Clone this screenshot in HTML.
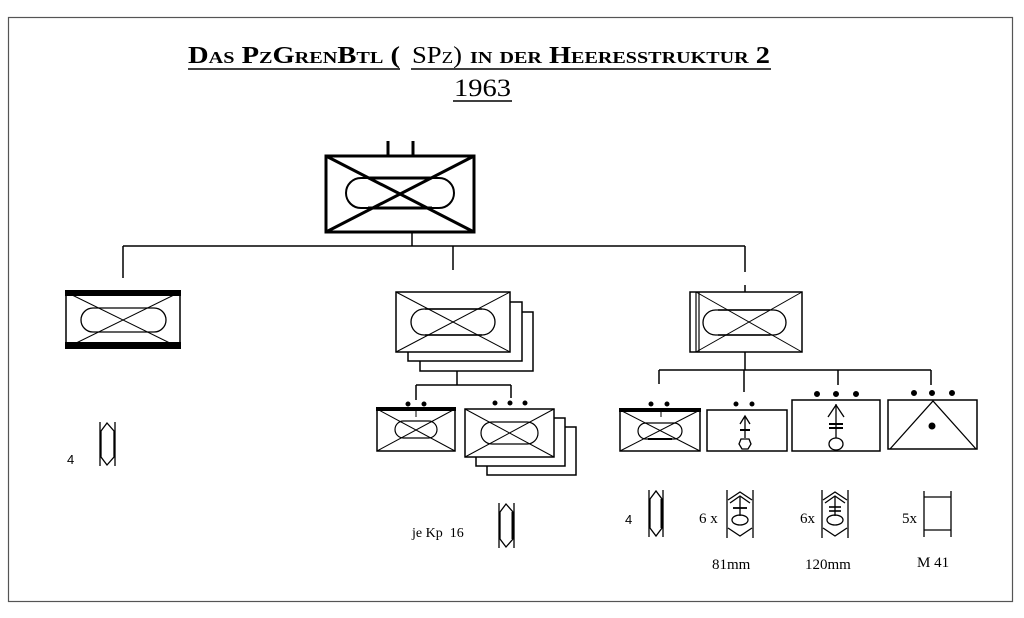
<!DOCTYPE html>
<html><head><meta charset="utf-8"><style>
html,body{margin:0;padding:0;background:#fff;width:1024px;height:618px;overflow:hidden}
svg{display:block}
.t{font-family:"Liberation Serif",serif}
</style></head><body>
<svg width="1024" height="618" viewBox="0 0 1024 618" xmlns="http://www.w3.org/2000/svg" fill="none" stroke="#000">
<rect x="8.5" y="17.5" width="1004" height="584" stroke="#555" stroke-width="1.2"/>
<!-- title -->
<text class="t" x="188" y="63" fill="#000" stroke="none" font-size="24" font-weight="bold" style="font-variant:small-caps" textLength="212" lengthAdjust="spacingAndGlyphs">Das PzGrenBtl (</text>
<text class="t" x="412" y="63" fill="#000" stroke="none" font-size="24" style="font-variant:small-caps" textLength="50" lengthAdjust="spacingAndGlyphs">SPz)</text>
<text class="t" x="470" y="63" fill="#000" stroke="none" font-size="24" font-weight="bold" style="font-variant:small-caps" textLength="300" lengthAdjust="spacingAndGlyphs">in der Heeresstruktur 2</text>
<line x1="188" y1="69" x2="400" y2="69" stroke-width="1.5"/>
<line x1="411" y1="69" x2="771" y2="69" stroke-width="1.5"/>
<text class="t" x="454" y="96" fill="#000" stroke="none" font-size="25" textLength="57" lengthAdjust="spacingAndGlyphs">1963</text>
<line x1="453" y1="101" x2="512" y2="101" stroke-width="1.5"/>

<!-- top box -->
<g stroke-width="3">
<line x1="388" y1="141" x2="388" y2="155"/><line x1="413" y1="141" x2="413" y2="155"/>
<rect x="326" y="156" width="148" height="76"/>
<line x1="326" y1="156" x2="474" y2="232"/><line x1="474" y1="156" x2="326" y2="232"/>
</g>
<rect x="346" y="178" width="108" height="30" rx="15" stroke-width="2"/>
<line x1="368" y1="178" x2="432" y2="178" stroke-width="3"/><line x1="368" y1="208" x2="432" y2="208" stroke-width="3"/>

<!-- connectors level 1 -->
<g stroke-width="1.5">
<line x1="412" y1="232" x2="412" y2="246"/>
<line x1="123" y1="246" x2="745" y2="246"/>
<line x1="123" y1="246" x2="123" y2="278"/>
<line x1="453" y1="246" x2="453" y2="270"/>
<line x1="745" y1="246" x2="745" y2="272"/>
<line x1="745" y1="285" x2="745" y2="292"/>
</g>

<!-- left box -->
<rect x="66" y="292" width="114" height="56" stroke-width="1.5"/>
<rect x="65" y="290" width="116" height="6" fill="#000" stroke="none"/>
<rect x="65" y="342" width="116" height="7" fill="#000" stroke="none"/>
<line x1="66" y1="292" x2="180" y2="348"/><line x1="180" y1="292" x2="66" y2="348"/>
<rect x="81" y="308" width="85" height="24" rx="12" stroke-width="1.3"/>
<line x1="97" y1="308" x2="150" y2="308"/><line x1="97" y1="332" x2="150" y2="332"/>

<!-- middle stack -->
<g stroke-width="1.5" fill="#fff">
<rect x="420" y="312" width="113" height="59"/>
<rect x="408" y="302" width="114" height="59"/>
<rect x="396" y="292" width="114" height="60"/>
</g>
<line x1="396" y1="292" x2="510" y2="352"/><line x1="510" y1="292" x2="396" y2="352"/>
<rect x="411" y="309" width="84" height="26" rx="13" stroke-width="1.3"/>
<line x1="425" y1="309" x2="482" y2="309" stroke-width="1.5"/><line x1="425" y1="335" x2="482" y2="335" stroke-width="1.5"/>

<g stroke-width="1.5">
<line x1="457" y1="371" x2="457" y2="385"/>
<line x1="416" y1="385" x2="511" y2="385"/>
<line x1="416" y1="385" x2="416" y2="400"/>
<line x1="511" y1="385" x2="511" y2="398"/>
</g>
<!-- small box left -->
<rect x="377" y="409" width="78" height="42" stroke-width="1.5"/>
<rect x="376" y="407" width="80" height="4" fill="#000" stroke="none"/>
<line x1="377" y1="409" x2="455" y2="451"/><line x1="455" y1="409" x2="377" y2="451"/>
<rect x="395" y="421" width="42" height="17" rx="8.5" stroke-width="1.2"/>
<line x1="416" y1="411" x2="416" y2="417"/>
<circle cx="408" cy="404" r="2" fill="#000"/><circle cx="424" cy="404" r="2" fill="#000"/>
<!-- small stack right -->
<g stroke-width="1.5" fill="#fff">
<rect x="487" y="427" width="89" height="48"/>
<rect x="476" y="418" width="89" height="48"/>
<rect x="465" y="409" width="89" height="48"/>
</g>
<line x1="465" y1="409" x2="554" y2="457"/><line x1="554" y1="409" x2="465" y2="457"/>
<rect x="481" y="422" width="57" height="22" rx="11" stroke-width="1.2"/>
<circle cx="495" cy="403" r="2" fill="#000"/><circle cx="510" cy="403" r="2" fill="#000"/><circle cx="525" cy="403" r="2" fill="#000"/>

<text class="t" x="412" y="537" fill="#000" stroke="none" font-size="14">je Kp&#160; 16</text>
<g stroke-width="1.3">
<line x1="499" y1="503" x2="499" y2="548"/><line x1="514" y1="503" x2="514" y2="548"/>
<path d="M500 512 L506 504 L513 512 L513 539 L506 547 L500 539 Z"/>
<line x1="513" y1="512" x2="513" y2="539" stroke-width="3"/>
</g>

<!-- right box -->
<rect x="690" y="292" width="112" height="60" stroke-width="1.5"/>
<line x1="696" y1="292" x2="696" y2="352" stroke-width="1.2"/>
<line x1="699" y1="292" x2="699" y2="352" stroke-width="1.2"/>
<line x1="696" y1="292" x2="802" y2="352"/><line x1="802" y1="292" x2="696" y2="352"/>
<rect x="703" y="310" width="83" height="25" rx="12.5" stroke-width="1.3"/>
<line x1="718" y1="310" x2="770" y2="310" stroke-width="1.5"/><line x1="718" y1="335" x2="770" y2="335" stroke-width="1.5"/>

<g stroke-width="1.5">
<line x1="745" y1="352" x2="745" y2="370"/>
<line x1="659" y1="370" x2="931" y2="370"/>
<line x1="659" y1="370" x2="659" y2="384"/>
<line x1="744" y1="370" x2="744" y2="392"/>
<line x1="838" y1="370" x2="838" y2="385"/>
<line x1="931" y1="370" x2="931" y2="385"/>
</g>

<!-- box A -->
<rect x="620" y="410" width="80" height="41" stroke-width="1.5"/>
<rect x="619" y="408" width="82" height="4" fill="#000" stroke="none"/>
<line x1="620" y1="410" x2="700" y2="451"/><line x1="700" y1="410" x2="620" y2="451"/>
<rect x="638" y="423" width="44" height="16" rx="8" stroke-width="1.2"/>
<line x1="648" y1="439" x2="672" y2="439" stroke-width="2"/>
<line x1="661" y1="412" x2="661" y2="417"/>
<circle cx="651" cy="404" r="2" fill="#000"/><circle cx="667" cy="404" r="2" fill="#000"/>
<!-- box B -->
<rect x="707" y="410" width="80" height="41" stroke-width="1.5"/>
<circle cx="736" cy="404" r="2" fill="#000"/><circle cx="752" cy="404" r="2" fill="#000"/>
<g stroke-width="1.3">
<line x1="745" y1="416" x2="745" y2="438"/>
<path d="M740 424 L745 416 L750 424"/>
<line x1="740" y1="430" x2="750" y2="430" stroke-width="2"/>
<path d="M741 439 L749 439 L751 444 L748 449 L742 449 L739 444 Z"/>
</g>
<!-- box C -->
<rect x="792" y="400" width="88" height="51" stroke-width="1.5"/>
<circle cx="817" cy="394" r="2.5" fill="#000"/><circle cx="836" cy="394" r="2.5" fill="#000"/><circle cx="856" cy="394" r="2.5" fill="#000"/>
<g stroke-width="1.3">
<line x1="836" y1="404" x2="836" y2="438"/>
<path d="M828 417 L836 405 L844 417"/>
<line x1="829" y1="424" x2="843" y2="424" stroke-width="2"/>
<line x1="829" y1="428" x2="843" y2="428" stroke-width="2"/>
<ellipse cx="836" cy="444" rx="7" ry="6"/>
</g>
<!-- box D -->
<rect x="888" y="400" width="89" height="49" stroke-width="1.5"/>
<path d="M890 449 L933 401 L976 449" stroke-width="1.3"/>
<circle cx="932" cy="426" r="3" fill="#000"/>
<circle cx="914" cy="393" r="2.5" fill="#000"/><circle cx="932" cy="393" r="2.5" fill="#000"/><circle cx="952" cy="393" r="2.5" fill="#000"/>

<!-- bottom row -->
<g font-family="Liberation Sans, sans-serif" font-size="13" fill="#000" stroke="none">
<text x="67" y="464">4</text>
<text x="625" y="524">4</text>
</g>
<g class="t" font-size="15" fill="#000" stroke="none">
<text x="699" y="523">6 x</text>
<text x="800" y="523">6x</text>
<text x="902" y="523">5x</text>
<text x="712" y="569">81mm</text>
<text x="805" y="569">120mm</text>
<text x="917" y="567">M 41</text>
</g>
<g stroke-width="1.3">
<!-- left vehicle -->
<line x1="100" y1="422" x2="100" y2="466"/><line x1="115" y1="422" x2="115" y2="466"/>
<path d="M101 431 L107 423 L114 431 L114 457 L107 465 L101 457 Z"/>
<!-- 4 vehicle -->
<line x1="649" y1="490" x2="649" y2="537"/><line x1="663" y1="490" x2="663" y2="537"/>
<path d="M650 499 L656 491 L662 499 L662 528 L656 536 L650 528 Z"/>
<line x1="662" y1="499" x2="662" y2="528" stroke-width="3"/>
<!-- 81 -->
<line x1="727" y1="490" x2="727" y2="538"/><line x1="753" y1="490" x2="753" y2="538"/>
<path d="M728 500 L740 492 L752 500 M730 503 L740 496 L750 503 M728 528 L740 536 L752 528"/>
<line x1="740" y1="497" x2="740" y2="516"/><line x1="733" y1="508" x2="747" y2="508" stroke-width="1.8"/>
<ellipse cx="740" cy="520" rx="8" ry="5"/>
<!-- 120 -->
<line x1="822" y1="490" x2="822" y2="538"/><line x1="848" y1="490" x2="848" y2="538"/>
<path d="M823 500 L835 492 L847 500 M825 503 L835 496 L845 503 M823 528 L835 536 L847 528"/>
<line x1="835" y1="497" x2="835" y2="516"/><line x1="829" y1="507" x2="841" y2="507" stroke-width="1.6"/><line x1="829" y1="511" x2="841" y2="511" stroke-width="1.6"/>
<ellipse cx="835" cy="520" rx="8" ry="5"/>
<!-- M41 -->
<line x1="924" y1="491" x2="924" y2="537"/><line x1="951" y1="491" x2="951" y2="537"/>
<line x1="924" y1="497" x2="951" y2="497"/><line x1="924" y1="530" x2="951" y2="530"/>
</g>
</svg>
</body></html>
